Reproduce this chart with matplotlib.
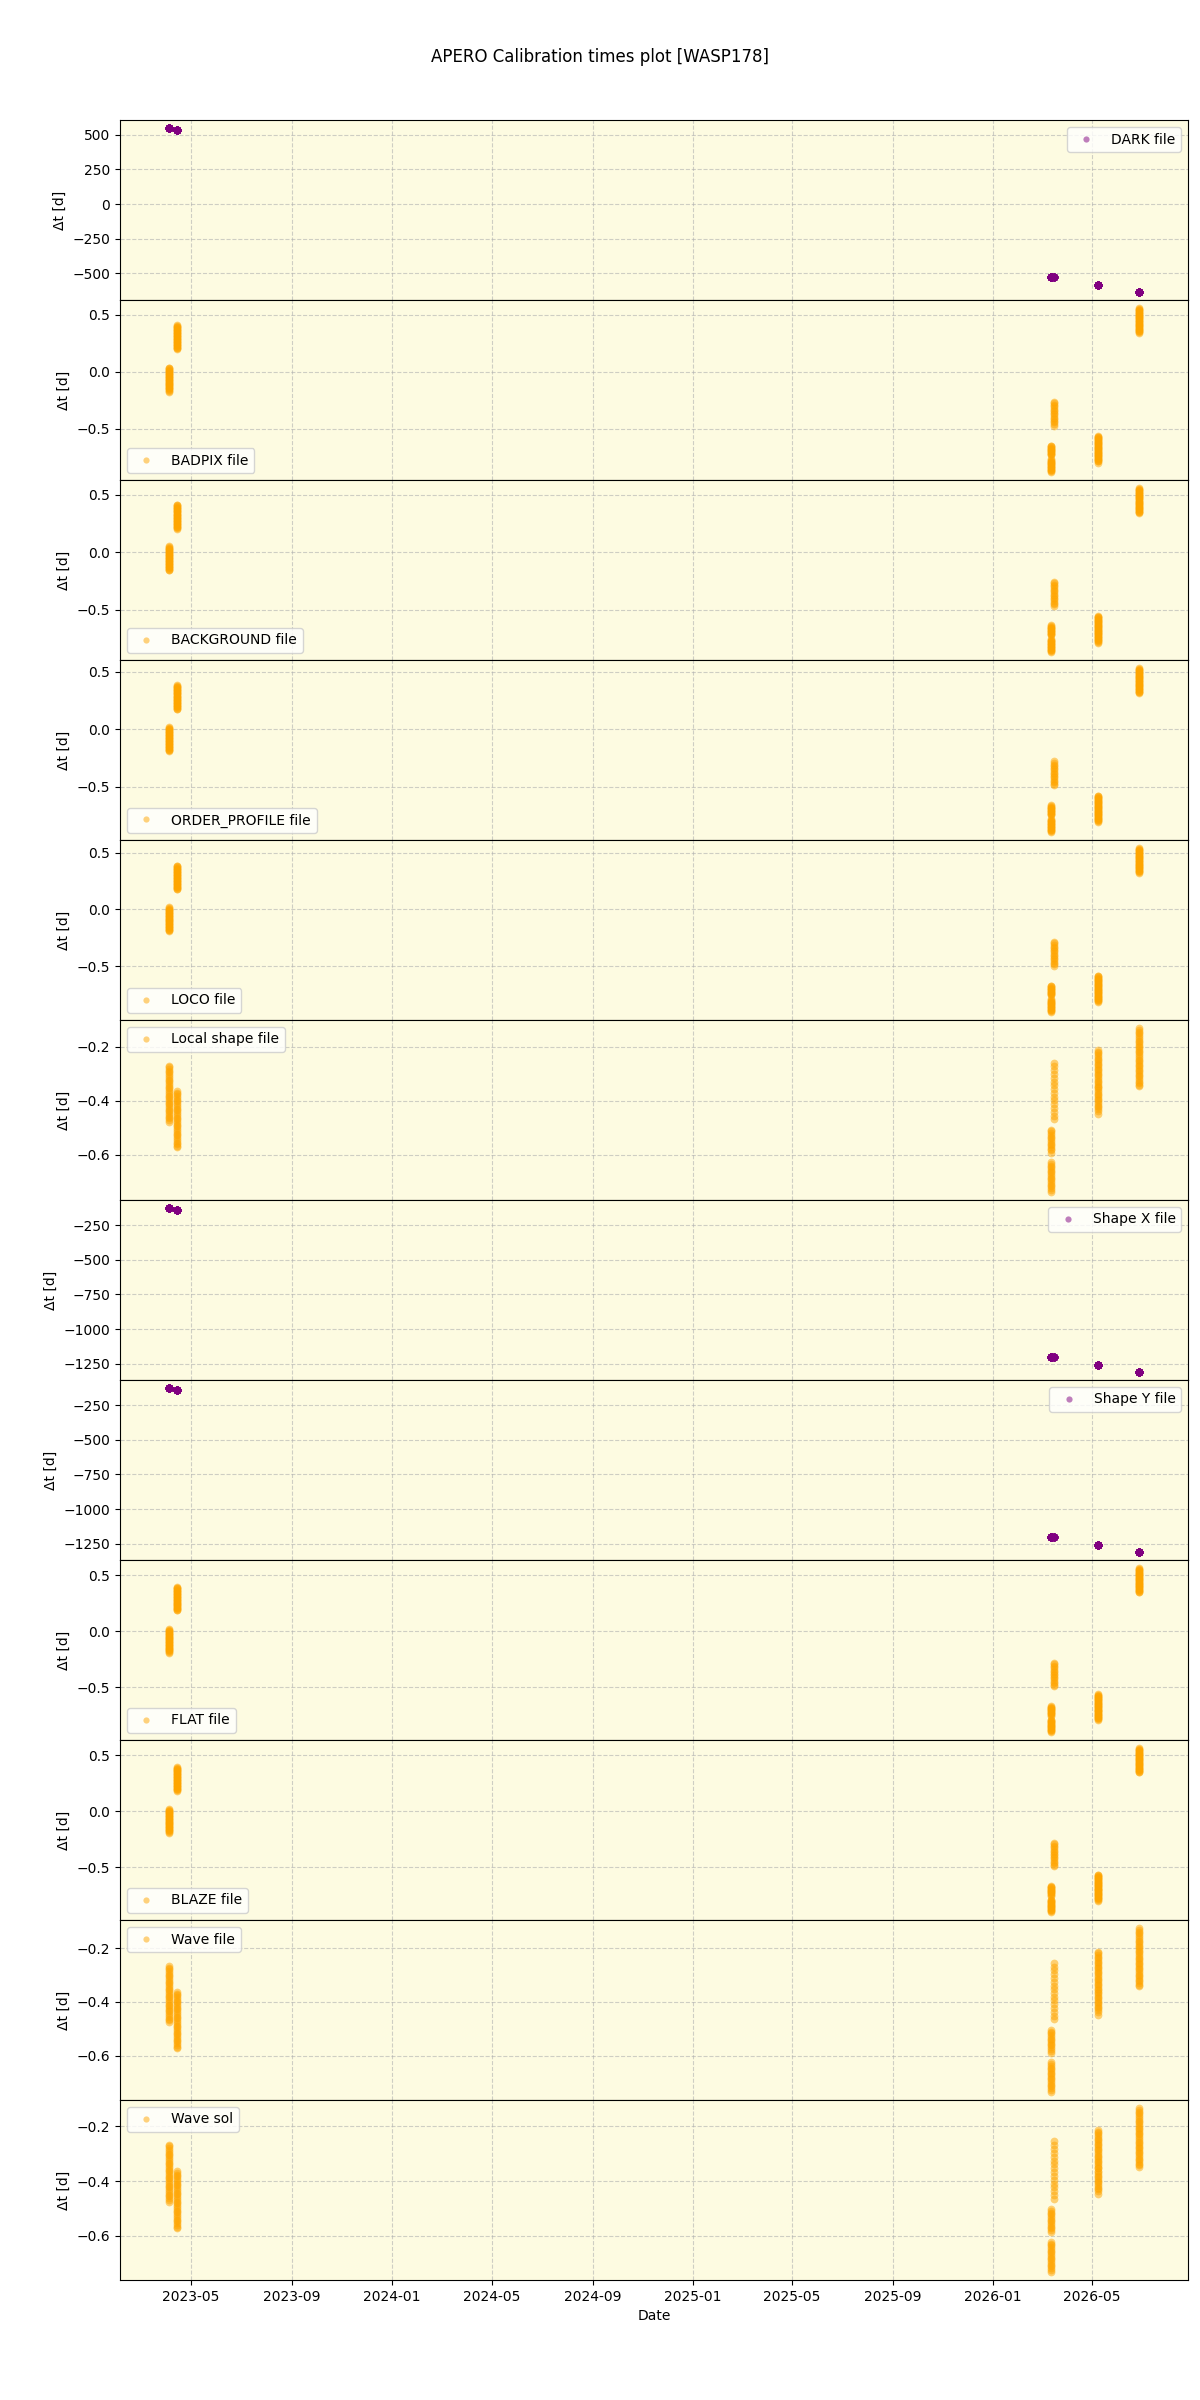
import matplotlib
matplotlib.use('Agg')
import matplotlib.pyplot as plt
import matplotlib.dates as mdates
import numpy as np
import pandas as pd

# ---------------- data ----------------
night_dates = ['2023-04-04', '2023-04-14', '2026-03-12', '2026-03-16', '2026-05-09', '2026-06-28']

# exposure times within each night (minutes since first exposure)
obs_n1 = [0, 9, 19, 28, 37, 47, 56, 66, 75, 84, 94, 103, 113, 122, 131, 141, 150,
          160, 169, 178, 188, 197, 207, 216, 225, 235, 244, 254, 263, 272, 282, 291, 302]
obs_n2 = [0, 10, 19, 29, 38, 48, 57, 67, 76, 86, 95, 105, 114, 124, 133, 143, 152,
          162, 171, 181, 190, 200, 209, 219, 228, 238, 247, 257, 266, 276, 285, 295, 302]
obs_n3 = [0, 9, 18, 28, 37, 46, 55, 65, 74, 83, 92, 102, 111, 122, 173, 182, 191,
          201, 210, 219, 228, 238, 247, 256, 265, 275, 284, 293, 302, 312, 321, 331]
obs_n4 = [0, 20, 40, 60, 81, 101, 121, 141, 161, 181, 201, 222, 242, 262, 282, 302]
obs_n5 = [0, 9, 18, 27, 36, 45, 54, 63, 72, 81, 90, 99, 108, 117, 126, 135, 144, 153,
          162, 171, 180, 189, 198, 203, 214, 223, 232, 241, 250, 259, 268, 277, 286,
          295, 304, 313, 322, 338]
obs_n6 = [0, 9, 18, 27, 36, 45, 57, 66, 75, 84, 93, 102, 111, 120, 129, 138, 147,
          158, 167, 176, 185, 194, 203, 212, 221, 230, 239, 248, 257, 266, 275, 284,
          293, 302, 310]
obs_minutes = [obs_n1, obs_n2, obs_n3, obs_n4, obs_n5, obs_n6]

# delta t [d] of the first exposure of each night, per calibration type
dt_dark       = [548, 537, -522, -526, -581, -632]
dt_badpix     = [0.036, 0.410, -0.648, -0.263, -0.563, 0.558]
dt_background = [0.052, 0.415, -0.635, -0.255, -0.553, 0.558]
dt_order_prof = [0.018, 0.385, -0.665, -0.280, -0.578, 0.533]
dt_loco       = [0.018, 0.385, -0.670, -0.285, -0.583, 0.538]
dt_localshape = [-0.270, -0.363, -0.507, -0.259, -0.213, -0.132]
dt_shapex     = [-127, -138, -1200, -1204, -1258, -1308]
dt_shapey     = [-127, -138, -1200, -1204, -1258, -1308]
dt_flat       = [0.017, 0.395, -0.670, -0.283, -0.563, 0.563]
dt_blaze      = [0.020, 0.395, -0.665, -0.280, -0.563, 0.563]
dt_wavefile   = [-0.266, -0.362, -0.504, -0.255, -0.213, -0.126]
dt_wavesol    = [-0.267, -0.363, -0.503, -0.255, -0.213, -0.133]

panel_labels = ['DARK file', 'BADPIX file', 'BACKGROUND file', 'ORDER_PROFILE file',
                'LOCO file', 'Local shape file', 'Shape X file', 'Shape Y file',
                'FLAT file', 'BLAZE file', 'Wave file', 'Wave sol']
panel_values = [dt_dark, dt_badpix, dt_background, dt_order_prof, dt_loco,
                dt_localshape, dt_shapex, dt_shapey, dt_flat, dt_blaze,
                dt_wavefile, dt_wavesol]
panel_colors = ['purple', 'orange', 'orange', 'orange', 'orange', 'orange',
                'purple', 'purple', 'orange', 'orange', 'orange', 'orange']
legend_locs = ['upper right', 'lower left', 'lower left', 'lower left', 'lower left',
               'upper left', 'upper right', 'upper right', 'lower left', 'lower left',
               'upper left', 'upper left']

title = 'APERO Calibration times plot [WASP178]'

# ---------------- plot ----------------
fig, axes = plt.subplots(12, 1, figsize=(12, 24), dpi=100, sharex=True)
fig.subplots_adjust(left=0.1, right=0.99, top=0.95, bottom=0.05, hspace=0)

for ax, label, vals, col, loc in zip(axes, panel_labels, panel_values,
                                      panel_colors, legend_locs):
    xs, ys = [], []
    for date, dt0, mins in zip(night_dates, vals, obs_minutes):
        m = np.array(mins, dtype=float)
        t0 = pd.Timestamp(date) + pd.Timedelta(hours=2)
        xs.extend(list(t0 + pd.to_timedelta(m, unit='min')))
        ys.extend(list(dt0 - m / 1440.0))
    ax.plot(xs, ys, 'o', color=col, alpha=0.5, ms=5.6, mew=0, label=label)
    ax.set_facecolor('#fdfbe1')
    ax.grid(True, linestyle='--', color='#b0b0b0', alpha=0.6)
    ax.set_axisbelow(True)
    ax.set_ylabel('Δt [d]')
    ax.legend(loc=loc, markerscale=0.8)

axes[-1].xaxis.set_major_locator(mdates.MonthLocator(bymonth=[1, 5, 9]))
axes[-1].xaxis.set_major_formatter(mdates.DateFormatter('%Y-%m'))
axes[-1].set_xlabel('Date')
fig.suptitle(title)

fig.savefig('out.png', dpi=100)
